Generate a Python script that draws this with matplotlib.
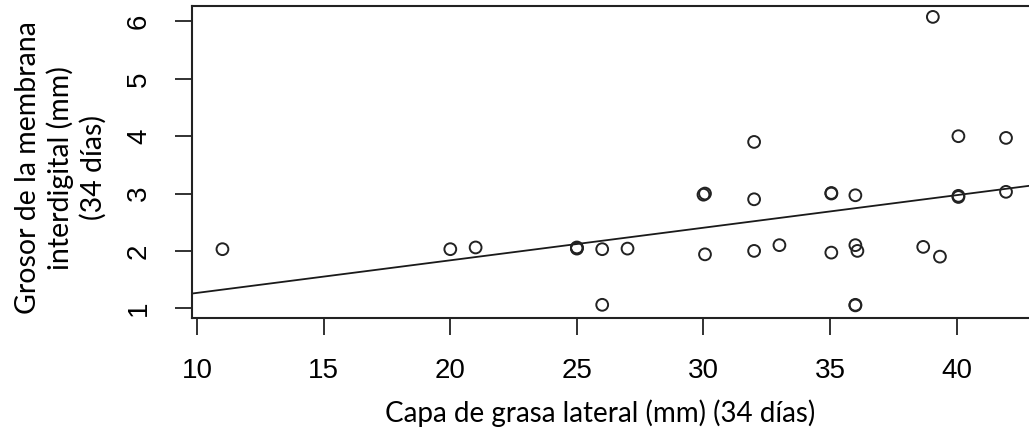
import matplotlib
matplotlib.use("Agg")
import matplotlib.pyplot as plt

# datos: capa de grasa lateral (x) vs grosor de membrana (y)
grasa = [11, 20, 21, 25, 25, 25, 26, 27, 26,
         39.06, 32, 40.07, 41.95,
         30, 30.06, 32, 35.05, 35.05, 36, 40.07, 40.07, 41.95,
         30.06, 32, 33, 35.05, 36, 36.08, 38.68, 39.34,
         36, 36]
grosor = [2.03, 2.03, 2.06, 2.05, 2.06, 2.04, 2.03, 2.04, 1.06,
          6.08, 3.90, 4.00, 3.97,
          2.98, 3.00, 2.90, 3.00, 3.01, 2.97, 2.96, 2.94, 3.03,
          1.94, 2.00, 2.10, 1.97, 2.10, 2.00, 2.07, 1.90,
          1.05, 1.06]

# recta de regresión (abline)
intercepto = 0.700
pendiente = 0.0568

x_ticks = [10, 15, 20, 25, 30, 35, 40]
y_ticks = [1, 2, 3, 4, 5, 6]

fig = plt.figure(figsize=(10.29, 4.41), dpi=100)
fig.patch.set_facecolor("white")
ax = fig.add_axes([0.1869, 0.2789, 0.8225, 0.7075])

ax.scatter(grasa, grosor, s=72, facecolors="none", edgecolors="#222222",
           linewidths=1.4, zorder=3)
ax.axline((0, intercepto), slope=pendiente, color="#1a1a1a", linewidth=1.3, zorder=2)

ax.set_xlim(9.81, 43.24)
ax.set_ylim(0.83, 6.27)

for spine in ax.spines.values():
    spine.set_linewidth(1.5)
    spine.set_color("#222222")

ax.set_xticks(x_ticks)
ax.set_yticks(y_ticks)
ax.tick_params(axis="both", direction="out", length=12, width=1.3, color="#222222")
ax.tick_params(axis="x", pad=17)
ax.tick_params(axis="y", pad=17)
ax.set_xticklabels([str(v) for v in x_ticks], fontsize=20, family="Liberation Sans")
ax.set_yticklabels([str(v) for v in y_ticks], fontsize=20, family="Liberation Sans",
                   rotation=90, va="center")

fig.text(0.583, 0.062, "Capa de grasa lateral (mm) (34 días)",
         ha="center", va="center", fontsize=20, family="Lato")
fig.text(0.059, 0.62, "Grosor de la membrana\ninterdigital (mm)\n(34 días)",
         ha="center", va="center", rotation=90, fontsize=20.5, family="Lato",
         linespacing=1.25, multialignment="center")

fig.savefig("out.png", dpi=100, facecolor=fig.get_facecolor())
